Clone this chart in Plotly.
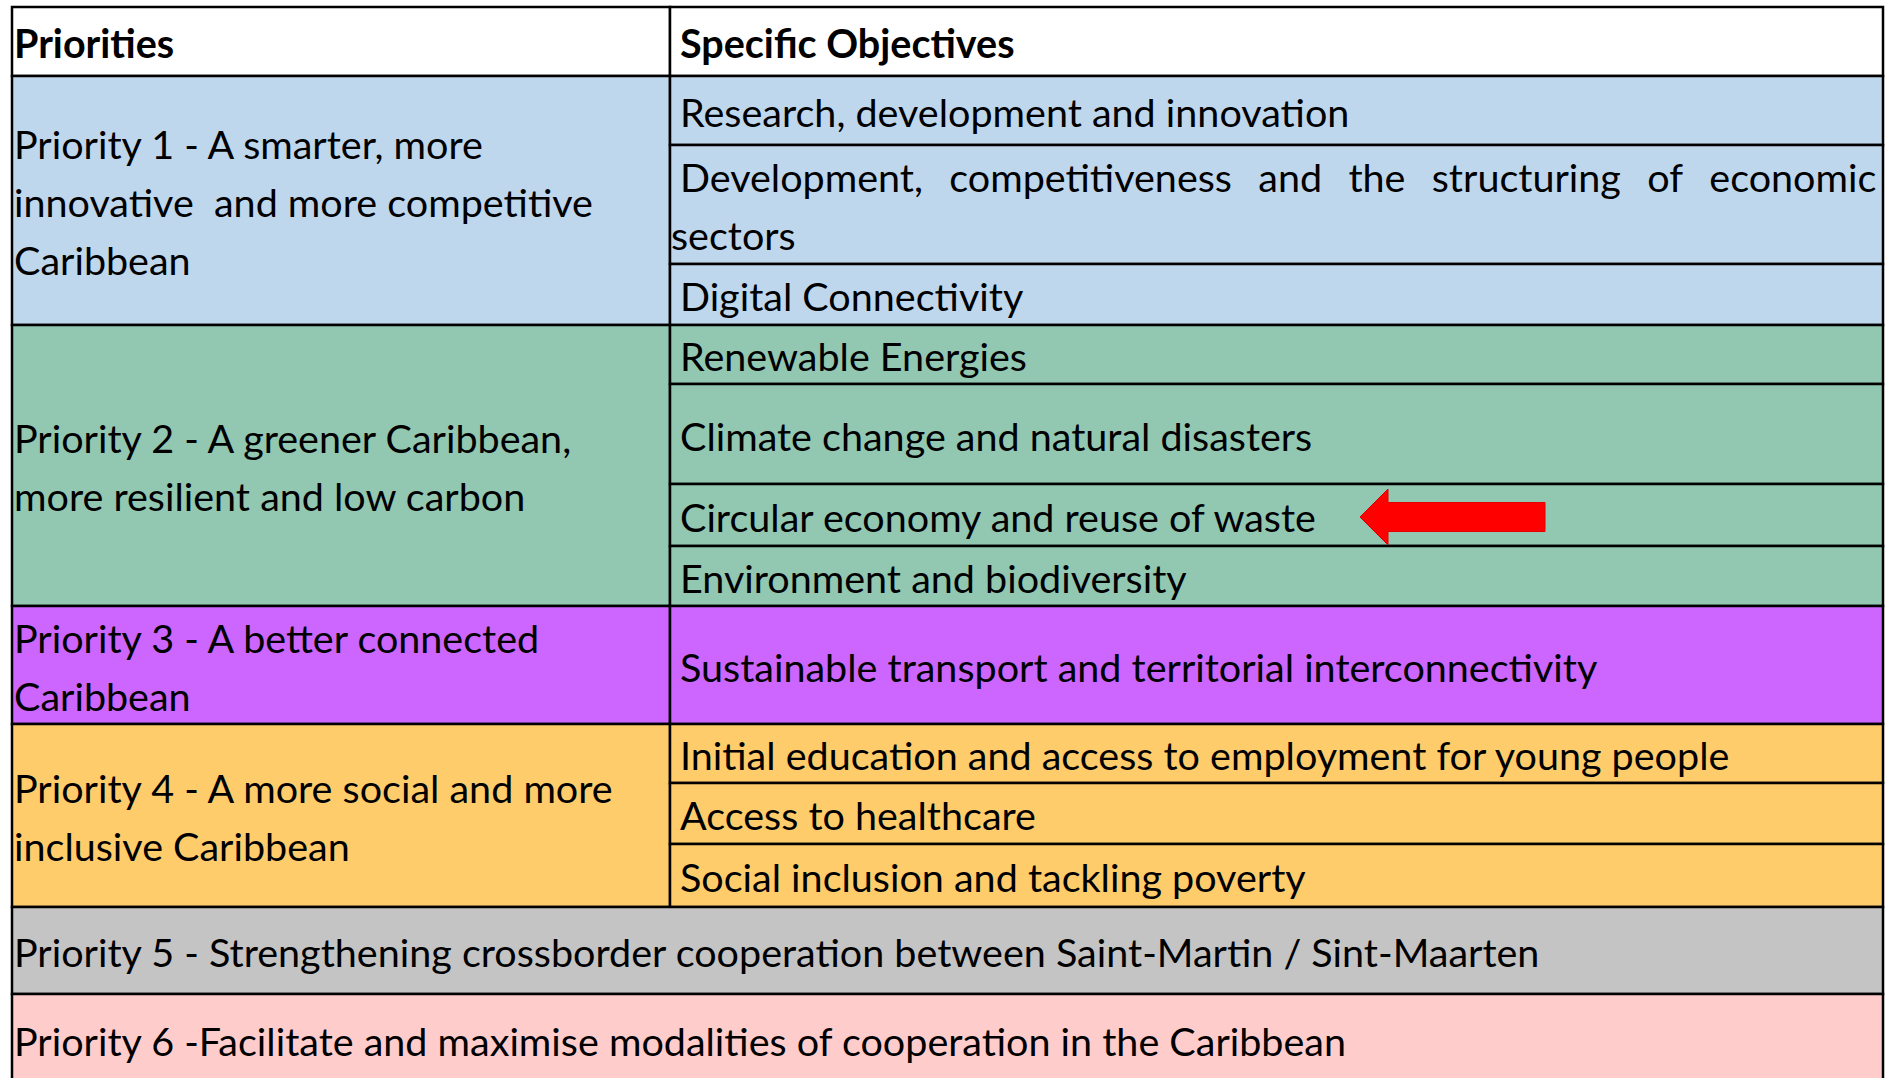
import plotly.graph_objects as go

# ---------------- data ----------------
header = ["Priorities", "Specific Objectives"]

priority_lines = [
    ["Priority 1 - A smarter, more", "innovative\u00a0\u00a0and more competitive", "Caribbean"],
    ["Priority 2 - A greener Caribbean,", "more resilient and low carbon"],
    ["Priority 3 - A better connected", "Caribbean"],
    ["Priority 4 - A more social and more", "inclusive Caribbean"],
    ["Priority 5 - Strengthening crossborder cooperation between Saint-Martin / Sint-Maarten"],
    ["Priority 6 -Facilitate and maximise modalities of cooperation in the Caribbean"],
]

objectives = [
    ["Research, development and innovation",
     "Development, competitiveness and the structuring of economic sectors",
     "Digital Connectivity"],
    ["Renewable Energies",
     "Climate change and natural disasters",
     "Circular economy and reuse of waste",
     "Environment and biodiversity"],
    ["Sustainable transport and territorial interconnectivity"],
    ["Initial education and access to employment for young people",
     "Access to healthcare",
     "Social inclusion and tackling poverty"],
    [],
    [],
]

highlighted = (1, 2)  # objective marked with the red arrow

# ---------------- layout / style ----------------
W, H = 1895, 1078
X0, XDIV, X1 = 12, 670, 1883
Y0 = 7
HEADER_H = 69
OBJ_H = [[69, 119, 61], [59, 100, 62, 60], [118], [59, 61, 63]]
FULL_H = [87, 90]
LINE_PITCH = 58
FILLS = ["#BFD7ED", "#92C7B2", "#CC66FF", "#FFCC6B", "#C4C4C4", "#FFCCCC"]
FONT = "Lato"
FS = 39.5
PAD_L = 0
PAD_R = 8
BORDER = dict(color="black", width=2.5)
CAP_OFF = 1
JUSTIFY_GAP = "\u2004\u2004"

fig = go.Figure()
shapes, annos = [], []


def rect(x0, y0, x1, y1, fill):
    shapes.append(dict(type="rect", xref="x", yref="y", x0=x0, y0=y0, x1=x1, y1=y1,
                       fillcolor=fill, line=BORDER, layer="below"))


def text(x, y, s, bold=False, anchor="left"):
    annos.append(dict(x=x, y=y, xref="x", yref="y", text=(f"<b>{s}</b>" if bold else s),
                      showarrow=False, xanchor=anchor, yanchor="middle",
                      font=dict(family=FONT, size=FS, color="black"), align=anchor))


# header
rect(X0, Y0, XDIV, Y0 + HEADER_H, "white")
rect(XDIV, Y0, X1, Y0 + HEADER_H, "white")
text(X0 + PAD_L, Y0 + HEADER_H / 2 + CAP_OFF, header[0], bold=True)
text(XDIV + PAD_R, Y0 + HEADER_H / 2 + CAP_OFF, header[1], bold=True)

y = Y0 + HEADER_H
arrow_center = None
for i, lines in enumerate(priority_lines):
    if i < len(OBJ_H):
        hs = OBJ_H[i]
        top = y
        bottom = top + sum(hs)
        rect(X0, top, XDIV, bottom, FILLS[i])
        cy = (top + bottom) / 2
        n = len(lines)
        for k, ln in enumerate(lines):
            text(X0 + PAD_L, cy + (k - (n - 1) / 2) * LINE_PITCH + CAP_OFF, ln)
        oy = top
        for j, obj in enumerate(objectives[i]):
            h = hs[j]
            rect(XDIV, oy, X1, oy + h, FILLS[i])
            ocy = oy + h / 2 + CAP_OFF
            if obj.startswith("Development,"):
                words = obj.split(" ")
                line1 = JUSTIFY_GAP.join(words[:-1])
                text(XDIV + PAD_R, ocy - LINE_PITCH / 2, line1)
                text(XDIV - 1, ocy + LINE_PITCH / 2, words[-1])
            else:
                text(XDIV + PAD_R, ocy, obj)
            if (i, j) == highlighted:
                arrow_center = oy + h / 2 + 2
            oy += h
        y = bottom
    else:
        h = FULL_H[i - len(OBJ_H)]
        rect(X0, y, X1, y + h, FILLS[i])
        text(X0 + PAD_L, y + h / 2 + CAP_OFF, lines[0])
        y += h

# red arrow pointing at the highlighted objective
if arrow_center is not None:
    tip, head, tail = 1360, 1388, 1545
    hh, sh = 28, 14.5
    c = arrow_center
    path = (f"M {tip},{c} L {head},{c - hh} L {head},{c - sh} L {tail},{c - sh} "
            f"L {tail},{c + sh} L {head},{c + sh} L {head},{c + hh} Z")
    shapes.append(dict(type="path", xref="x", yref="y", path=path,
                       fillcolor="#FF0000", line=dict(color="#E00000", width=1), layer="above"))

fig.update_layout(
    width=W, height=H, margin=dict(l=0, r=0, t=0, b=0),
    paper_bgcolor="white", plot_bgcolor="white",
    xaxis=dict(range=[0, W], visible=False, fixedrange=True),
    yaxis=dict(range=[H, 0], visible=False, fixedrange=True),
    shapes=shapes, annotations=annos, showlegend=False,
)

fig.write_html("out.html", config={"displayModeBar": False},
               post_script="document.body.style.margin='0px';")
